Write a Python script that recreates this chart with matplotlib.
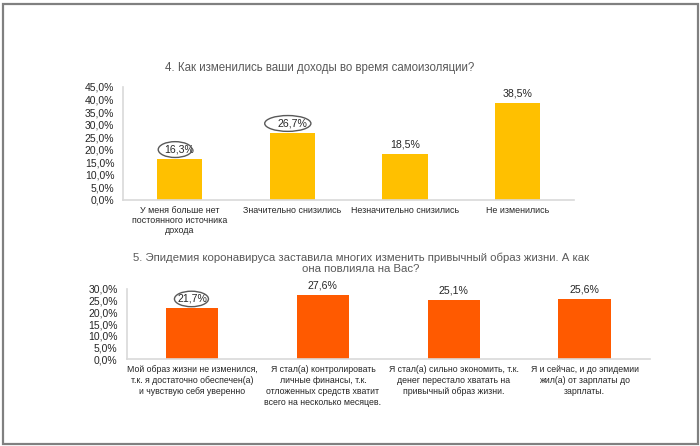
import matplotlib.pyplot as plt
from matplotlib.patches import Ellipse, Rectangle

plt.rcParams['font.family'] = ['Liberation Sans', 'DejaVu Sans']

# Data
q4_title = '4. Как изменились ваши доходы во время самоизоляции?'
q4_labels = ['У меня больше нет\nпостоянного источника\nдохода',
             'Значительно снизились',
             'Незначительно снизились',
             'Не изменились']
q4_values = [16.3, 26.7, 18.5, 38.5]
q4_circled = [0, 1]

q5_title = ('5. Эпидемия коронавируса заставила многих изменить привычный образ жизни. А как\n'
            'она повлияла на Вас?')
q5_labels = ['Мой образ жизни не изменился,\nт.к. я достаточно обеспечен(а)\nи чувствую себя уверенно',
             'Я стал(а) контролировать\nличные финансы, т.к.\nотложенных средств хватит\nвсего на несколько месяцев.',
             'Я стал(а) сильно экономить, т.к.\nденег перестало хватать на\nпривычный образ жизни.',
             'Я и сейчас, и до эпидемии\nжил(а) от зарплаты до\nзарплаты.']
q5_values = [21.7, 27.6, 25.1, 25.6]
q5_circled = [0]

W, H = 700, 446
fig = plt.figure(figsize=(W / 100, H / 100), dpi=100)
fig.patch.set_facecolor('white')

# outer frame
fig.patches.append(Rectangle((2.5 / W, 2 / H), 695 / W, 440.5 / H, transform=fig.transFigure,
                             fill=False, edgecolor='#808080', linewidth=1.6))


def pct(v):
    return f'{v:.1f}%'.replace('.', ',')


def draw(ax, values, labels, color, ymax, step, circled, ell_w, ell_h, ell_dx, lab_size, lab_ls):
    x = range(len(values))
    ax.bar(x, values, width=0.4, color=color, zorder=2)
    ax.set_xlim(-0.5, len(values) - 0.5)
    ax.set_ylim(0, ymax)
    ticks = [i * step for i in range(int(ymax / step) + 1)]
    ax.set_yticks(ticks)
    ax.set_yticklabels([pct(t) for t in ticks], fontsize=7.5, color='#262626')
    ax.set_xticks(list(x))
    ax.set_xticklabels(labels, fontsize=lab_size, color='#262626', linespacing=lab_ls, va='top')
    ax.tick_params(axis='both', length=0)
    ax.tick_params(axis='y', pad=6.5)
    ax.tick_params(axis='x', pad=4)
    for s in ['top', 'right']:
        ax.spines[s].set_visible(False)
    for s in ['left', 'bottom']:
        ax.spines[s].set_color('#d9d9d9')
        ax.spines[s].set_linewidth(1.2)
    ax.set_facecolor('none')
    off = 9.5 / ax.get_window_extent().height * ymax
    for i, v in enumerate(values):
        ax.text(i, v + off, pct(v), ha='center', va='center', fontsize=7.6, color='#262626')
        if i in circled:
            ax.add_patch(Ellipse((i + ell_dx, v + off), ell_w[circled.index(i)], ell_h,
                                 fill=False, edgecolor='#595959', linewidth=1.0, zorder=3,
                                 clip_on=False))


ax1 = fig.add_axes([123.3 / W, 1 - 200 / H, 450.7 / W, 113 / H])
draw(ax1, q4_values, q4_labels, '#FFC000', 45, 5, q4_circled,
     [0.30, 0.41], 6.3, -0.04, 6.4, 1.2)
fig.text(320 / W, 1 - 67.7 / H, q4_title, ha='center', va='center', fontsize=8.3, color='#595959')

ax2 = fig.add_axes([126.7 / W, 1 - 359.3 / H, 523.3 / W, 70.3 / H])
draw(ax2, q5_values, q5_labels, '#FF5A00', 30, 5, q5_circled,
     [0.26], 6.6, -0.005, 6.3, 1.3)
fig.text(361 / W, 1 - 263 / H, q5_title, ha='center', va='center', fontsize=8.2, color='#595959',
         linespacing=1.1)

fig.savefig('out.png', dpi=100)
